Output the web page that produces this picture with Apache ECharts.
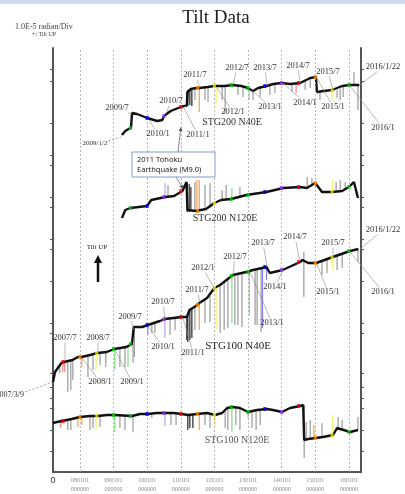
<!DOCTYPE html>
<html>
<head>
<meta charset="utf-8">
<script src="https://cdn.jsdelivr.net/npm/echarts@6.0.0/dist/echarts.min.js"></script>
<style>
html, body { margin: 0; padding: 0; background: #fff; }
#tiltChart { width: 405px; height: 494px; }
</style>
</head>
<body>
<div id="tiltChart"></div>
<script>
// year grid + half-year colour marks
var years = [2008, 2009, 2010, 2011, 2012, 2013, 2014, 2015, 2016];
var halfYears = [2007.5, 2008, 2008.5, 2009, 2009.5, 2010, 2010.5, 2011, 2011.5, 2012, 2012.5, 2013, 2013.5, 2014, 2014.5, 2015, 2015.5, 2016];
var halfColors = ['#ff0000', '#ff8c00', '#f2e600', '#00d000', '#00d000', '#0000ff', '#9933ff', '#ff0000', '#ff8c00', '#f2e600', '#00d000', '#00d000', '#0000ff', '#9933ff', '#ff0000', '#ff8c00', '#f2e600', '#00d000'];
var spikeTints = ['#ff8080', '#f0a050', '#f0f060', '#80e080', '#80e080', '#8080ff', '#c0a0f0', '#ff8080', '#f0a050', '#f0f060', '#80e080', '#80e080', '#8080ff', '#c0a0f0', '#ff8080', '#f0a050', '#f0f060', '#80e080'];
var tickValues = [21, 42, 64, 74, 85, 99, 139, 149, 191, 223, 233, 265, 275, 307, 317, 349, 391, 403];

// STG200 N40E
var stg200n40e = [[2009.25, 337], [2009.35, 341], [2009.45, 343], [2009.52, 344], [2009.55, 359], [2009.70, 358], [2009.85, 356], [2010.00, 354], [2010.30, 351], [2010.45, 352], [2010.50, 356], [2010.70, 361], [2011.00, 365], [2011.10, 366], [2011.18, 367], [2011.20, 380], [2011.30, 383], [2011.45, 384], [2011.55, 384], [2011.80, 385], [2012.00, 386], [2012.30, 386], [2012.55, 387], [2012.80, 386], [2013.00, 384], [2013.15, 381], [2013.30, 384], [2013.55, 386], [2013.75, 388], [2014.00, 389], [2014.25, 388], [2014.55, 389], [2014.85, 394], [2015.02, 395], [2015.05, 380], [2015.25, 381], [2015.50, 382], [2015.80, 386], [2016.02, 387], [2016.20, 387], [2016.31, 387]];
var marks200n40e = [[2009.5, 344], [2010.0, 354], [2010.5, 356], [2011.0, 365], [2011.5, 384], [2012.0, 386], [2012.5, 387], [2013.0, 384], [2013.5, 386], [2014.0, 389], [2014.5, 389], [2015.0, 395], [2015.5, 382], [2016.0, 387]];
var spikes200n40e = [[2011.18, 380, 365], [2011.21, 382, 366], [2011.27, 382, 367], [2011.33, 383, 366], [2011.42, 384, 372], [2011.55, 384, 360], [2011.72, 384, 372], [2011.81, 385, 370], [2012.05, 386, 369], [2012.23, 386, 372], [2012.32, 386, 359], [2012.70, 386, 377], [2012.85, 386, 375], [2013.03, 384, 372], [2013.15, 382, 372], [2013.36, 384, 375], [2013.65, 387, 377], [2013.80, 388, 379], [2014.31, 388, 380], [2014.43, 389, 379], [2014.70, 392, 382], [2014.85, 393, 384], [2015.14, 381, 372], [2015.50, 382, 372], [2015.65, 382, 374], [2015.74, 383, 372], [2015.83, 385, 375], [2016.15, 387, 400], [2016.27, 386, 362]];

// STG200 N120E
var stg200n120e = [[2009.25, 254], [2009.35, 262], [2009.50, 264], [2009.75, 265], [2010.00, 266], [2010.12, 272], [2010.40, 274], [2010.55, 275], [2010.80, 276], [2010.95, 279], [2011.05, 281], [2011.17, 290], [2011.20, 262], [2011.45, 261], [2011.75, 263], [2012.00, 269], [2012.20, 272], [2012.50, 273], [2012.95, 277], [2013.55, 280], [2014.05, 284], [2014.55, 285], [2014.75, 284], [2015.00, 289], [2015.20, 280], [2015.50, 280], [2015.80, 281], [2016.00, 285], [2016.15, 290], [2016.27, 274]];
var marks200n120e = [[2009.5, 264], [2010.0, 266], [2010.5, 275], [2011.0, 281], [2011.5, 261], [2012.0, 269], [2012.5, 273], [2013.0, 277], [2013.5, 280], [2014.0, 284], [2014.5, 285], [2015.0, 289], [2015.5, 280], [2016.0, 285]];
var spikes200n120e = [[2010.53, 275, 289], [2010.62, 275, 287], [2011.19, 290, 260], [2011.25, 288, 260], [2011.30, 285, 261], [2011.42, 261, 290], [2011.48, 261, 292], [2011.55, 261, 292], [2011.72, 262, 287], [2011.87, 264, 289], [2012.23, 272, 282], [2012.35, 272, 287], [2012.52, 273, 284], [2012.76, 275, 285], [2014.76, 284, 295], [2014.90, 286, 294], [2015.52, 280, 292], [2015.62, 280, 290], [2015.74, 281, 292], [2015.89, 282, 290]];

// STG100 N40E
var stg100n40e = [[2007.20, 90], [2007.26, 100], [2007.45, 109], [2007.52, 110], [2007.78, 112], [2007.94, 115], [2008.05, 115], [2008.30, 117], [2008.52, 119], [2008.80, 120], [2009.02, 123], [2009.38, 125], [2009.55, 128], [2009.60, 145], [2009.85, 145], [2010.02, 147], [2010.38, 151], [2010.53, 153], [2010.78, 154], [2011.03, 155], [2011.18, 155], [2011.26, 162], [2011.45, 166], [2011.55, 169], [2011.78, 174], [2012.00, 184], [2012.17, 187], [2012.55, 197], [2012.95, 200], [2013.15, 202], [2013.55, 205], [2013.65, 199], [2014.03, 202], [2014.55, 210], [2014.62, 212], [2014.79, 209], [2015.03, 209], [2015.52, 215], [2015.95, 220], [2016.04, 221], [2016.28, 223]];
var marks100n40e = [[2007.5, 110], [2008.0, 115], [2008.5, 119], [2009.0, 123], [2009.5, 128], [2010.0, 147], [2010.5, 153], [2011.0, 155], [2011.5, 167], [2012.0, 184], [2012.5, 196], [2013.0, 200], [2013.5, 205], [2014.0, 202], [2014.5, 210], [2015.0, 209], [2015.5, 215], [2016.0, 221]];
var spikes100n40e = [[2007.40, 107, 99], [2007.49, 109, 100], [2007.55, 110, 100], [2007.64, 111, 80], [2007.73, 112, 82], [2007.79, 112, 92], [2008.06, 115, 105], [2008.24, 116, 95], [2008.39, 117, 102], [2008.48, 118, 102], [2008.60, 119, 107], [2008.77, 120, 105], [2009.04, 123, 102], [2009.19, 123, 105], [2009.34, 124, 105], [2009.43, 126, 105], [2009.58, 128, 109], [2009.62, 145, 115], [2010.02, 147, 137], [2010.14, 148, 139], [2010.23, 149, 139], [2010.53, 153, 134], [2010.68, 154, 137], [2010.83, 154, 142], [2011.18, 155, 132], [2011.21, 156, 130], [2011.27, 162, 132], [2011.33, 164, 134], [2011.42, 166, 142], [2011.55, 169, 142], [2011.72, 172, 149], [2011.87, 176, 150], [2012.05, 184, 142], [2012.17, 187, 139], [2012.29, 189, 142], [2012.40, 192, 144], [2012.52, 194, 149], [2012.61, 196, 147], [2012.70, 198, 147], [2012.82, 199, 145], [2013.04, 200, 157], [2013.21, 201, 147], [2013.27, 202, 147], [2013.39, 203, 140], [2013.43, 203, 144], [2013.55, 205, 192], [2014.66, 220, 175], [2015.20, 210, 197], [2015.35, 212, 199], [2015.52, 215, 202], [2015.65, 216, 202], [2015.80, 218, 204], [2016.27, 223, 210]];

// STG100 N120E
var stg100n120e = [[2007.20, 49], [2007.32, 50], [2007.46, 51], [2007.76, 53], [2008.00, 55], [2008.30, 56], [2008.54, 56], [2008.80, 57], [2009.04, 57], [2009.55, 56], [2009.79, 58], [2010.02, 58], [2010.29, 59], [2010.77, 59], [2011.04, 58], [2011.21, 57], [2011.48, 58], [2011.78, 59], [2012.02, 57], [2012.23, 59], [2012.38, 64], [2012.55, 65], [2012.76, 64], [2013.00, 60], [2013.27, 62], [2013.57, 63], [2013.74, 62], [2014.01, 60], [2014.25, 64], [2014.55, 66], [2014.64, 67], [2014.67, 32], [2014.79, 33], [2015.02, 34], [2015.23, 35], [2015.53, 37], [2015.65, 44], [2015.74, 43], [2016.04, 40], [2016.27, 42]];
var marks100n120e = [[2007.5, 51], [2008.0, 55], [2008.5, 56], [2009.0, 57], [2009.5, 56], [2010.0, 58], [2010.5, 59], [2011.0, 58], [2011.5, 58], [2012.0, 57], [2012.5, 65], [2013.0, 60], [2013.5, 63], [2014.0, 60], [2014.5, 66], [2015.0, 34], [2015.5, 37], [2016.0, 40]];
var spikes100n120e = [[2007.43, 51, 44], [2007.64, 52, 42], [2007.73, 52, 42], [2007.94, 54, 45], [2008.06, 55, 47], [2008.30, 56, 42], [2008.39, 56, 44], [2008.48, 56, 42], [2008.60, 57, 45], [2009.04, 57, 40], [2009.19, 57, 44], [2009.34, 56, 42], [2009.58, 56, 40], [2010.14, 58, 54], [2010.53, 59, 46], [2010.71, 59, 47], [2010.86, 59, 47], [2011.21, 57, 42], [2011.27, 57, 44], [2011.36, 58, 44], [2011.55, 58, 42], [2011.72, 59, 47], [2011.87, 59, 44], [2012.02, 57, 47], [2012.32, 63, 44], [2012.40, 64, 42], [2012.52, 65, 40], [2012.64, 65, 47], [2012.76, 64, 42], [2013.00, 60, 54], [2013.12, 61, 44], [2013.24, 62, 42], [2013.36, 62, 47], [2014.67, 67, 14], [2014.73, 32, 50], [2014.85, 33, 52], [2014.96, 33, 47], [2015.20, 35, 49], [2015.52, 37, 57], [2015.68, 43, 55], [2015.80, 43, 52], [2016.27, 42, 55]];

// date notes: text, label x, y, leader target x, y (pixels)
var notes = [
    ['2009/7', 117, 108, 132, 114], ['2010/7', 171, 101, 166, 114], ['2010/1', 158, 134, 149, 120],
    ['2011/1', 198, 135, 184, 108], ['2011/7', 195, 75, 200, 88], ['2012/7', 237, 68, 233, 85],
    ['2013/7', 265, 68, 267, 86], ['2014/7', 298, 66, 300, 83], ['2015/7', 328, 72, 333, 90],
    ['2012/1', 233, 112, 217, 88], ['2013/1', 270, 107, 250, 88], ['2014/1', 305, 103, 283, 83],
    ['2015/1', 333, 107, 317, 78], ['2016/1/22', 383, 67, 360, 85], ['2016/1', 383, 128, 350, 86],
    ['2007/7', 65, 338, 65, 361], ['2008/7', 98, 338, 98, 353], ['2008/1', 100, 382, 82, 358],
    ['2009/1', 132, 382, 115, 350], ['2009/7', 130, 317, 134, 330], ['2010/7', 163, 302, 165, 319],
    ['2010/1', 163, 347, 148, 326], ['2011/7', 197, 290, 200, 303], ['2012/1', 203, 268, 214, 288],
    ['2012/7', 235, 257, 233, 275], ['2013/7', 263, 243, 267, 267], ['2014/7', 295, 237, 300, 262],
    ['2015/7', 333, 243, 333, 257], ['2015/1', 328, 292, 317, 264], ['2014/1', 275, 287, 283, 270],
    ['2013/1', 272, 323, 250, 272], ['2011/1', 193, 353, 183, 318], ['2016/1/22', 383, 230, 360, 249],
    ['2016/1', 383, 292, 350, 252]
];

var SERIF = '"Liberation Serif", "Times New Roman", serif';

function halfIndex(x) {
    var i = Math.round((x - 2007.5) * 2);
    if (i < 0 || i >= halfYears.length) return -1;
    return Math.abs(halfYears[i] - x) <= 0.07 ? i : -1;
}

function spikeColor(x) {
    if (x >= 2011.15 && x <= 2011.36) return '#222';
    var i = halfIndex(x);
    return i >= 0 ? spikeTints[i] : '#9a9a9a';
}

function txt(text, x, y, size, color, align) {
    return {
        type: 'text', x: x, y: y, silent: true, z: 50,
        style: { text: text, font: size + 'px ' + SERIF, fill: color || '#333', align: align || 'center', verticalAlign: 'middle' }
    };
}

function seg(x1, y1, x2, y2, color, width, dash) {
    return {
        type: 'line', silent: true, z: 40,
        shape: { x1: x1, y1: y1, x2: x2, y2: y2 },
        style: { stroke: color || '#8a8a8a', lineWidth: width || 0.6, lineDash: dash || null }
    };
}

function arrowHead(x, y, dx, dy, size, color) {
    var l = Math.sqrt(dx * dx + dy * dy), ux = dx / l, uy = dy / l;
    var bx = x - ux * size, by = y - uy * size;
    return {
        type: 'polygon', silent: true, z: 41,
        shape: { points: [[x, y], [bx - uy * size * 0.5, by + ux * size * 0.5], [bx + uy * size * 0.5, by - ux * size * 0.5]] },
        style: { fill: color }
    };
}

function buildGraphics() {
    var els = [];
    els.push({ type: 'rect', shape: { x: 0, y: 0, width: 405, height: 4 }, style: { fill: '#d3dcef' }, silent: true });
    els.push(txt('Tilt Data', 216, 18, 19, '#222'));
    els.push(txt('1.0E-5 radian/Div', 15, 27, 8, '#444', 'left'));
    els.push(txt('+: Tilt UP', 32, 34, 6, '#444', 'left'));

    notes.forEach(function (n) {
        els.push(txt(n[0], n[1], n[2], 8.5, '#333'));
        var dx = n[3] - n[1], dy = n[4] - n[2];
        var hw = n[0].length * 2.1 + 1, hh = 4.5;
        var t = Math.min(dx === 0 ? 1e9 : hw / Math.abs(dx), dy === 0 ? 1e9 : hh / Math.abs(dy));
        els.push(seg(n[1] + dx * t, n[2] + dy * t, n[3], n[4]));
    });
    els.push(txt('2009/1/2', 95, 143, 7, '#333'));
    els.push(seg(108, 141, 121, 137, '#777', 0.7, [2, 2]));
    els.push(txt('2007/3/9', 24, 395, 8, '#333', 'right'));
    els.push(seg(25, 392, 53, 382, '#777', 0.7, [2, 2]));

    els.push(txt('STG200 N40E', 232, 122, 10, '#333'));
    els.push(txt('STG200 N120E', 225, 218, 10, '#333'));
    els.push(txt('STG100 N40E', 238, 346, 11, '#222'));
    els.push(txt('STG100 N120E', 237, 440, 10, '#555'));

    // Tilt UP arrow
    els.push(txt('Tilt UP', 97, 247, 7, '#222'));
    els.push(seg(98, 282, 98, 262, '#111', 2.5));
    els.push(arrowHead(98, 255, 0, -1, 8, '#111'));

    // earthquake callout
    els.push({
        type: 'rect', z: 45, silent: true,
        shape: { x: 132, y: 152, width: 83, height: 25 },
        style: { fill: '#fff', stroke: '#7f9cc8', lineWidth: 1 }
    });
    els.push({
        type: 'text', x: 137, y: 160, z: 46, silent: true,
        style: { text: '2011 Tohoku', font: '7.5px "Noto Sans", "Open Sans", sans-serif', fill: '#222', align: 'left', verticalAlign: 'middle' }
    });
    els.push({
        type: 'text', x: 137, y: 170, z: 46, silent: true,
        style: { text: 'Earthquake (M9.0)', font: '7.5px "Noto Sans", "Open Sans", sans-serif', fill: '#222', align: 'left', verticalAlign: 'middle' }
    });
    els.push(seg(178, 152, 180.5, 131, '#555', 0.7));
    els.push(arrowHead(181, 127, 0.12, -1, 4, '#555'));
    els.push(seg(176, 177, 181, 185, '#555', 0.7));
    els.push(arrowHead(183, 189, 0.55, 1, 4, '#555'));
    return els;
}

function lineSeries(name, data) {
    return {
        name: name, type: 'line', data: data, showSymbol: false, z: 4,
        lineStyle: { color: '#111', width: 2.4 }, animation: false
    };
}

function markSeries(name, data) {
    return {
        name: name + ' marks', type: 'scatter', data: data, z: 6,
        symbol: 'rect', symbolSize: [3, 4], animation: false,
        itemStyle: {
            color: function (p) {
                var i = halfIndex(p.value[0]);
                return i >= 0 ? halfColors[i] : '#111';
            }
        }
    };
}

function spikeSeries(name, data) {
    return {
        name: name + ' spikes', type: 'custom', data: data, z: 3, animation: false,
        encode: { x: 0, y: [1, 2] },
        renderItem: function (params, api) {
            var x = api.value(0);
            var p1 = api.coord([x, api.value(1)]);
            var p2 = api.coord([x, api.value(2)]);
            return {
                type: 'line',
                shape: { x1: p1[0], y1: p1[1], x2: p2[0], y2: p2[1] },
                style: { stroke: spikeColor(x), lineWidth: 1.2 }
            };
        }
    };
}

var tiltChart = echarts.init(document.getElementById('tiltChart'));
window.addEventListener('resize', function () {
    tiltChart.resize();
});

var spikeAll = spikes200n40e.concat(spikes200n120e, spikes100n40e, spikes100n120e);

var gridLines = lineSeries('STG100 N120E', stg100n120e);
gridLines.markLine = {
    silent: true, symbol: ['none', 'none'], animation: false,
    label: { show: false },
    lineStyle: { color: '#a8a8a8', width: 0.8, type: [2, 2] },
    data: years.map(function (y) { return { xAxis: y }; })
};

tiltChart.setOption({
    animation: false,
    backgroundColor: '#fff',
    grid: { left: 53, right: 44, top: 48, bottom: 22 },
    xAxis: [{
        type: 'value', min: 2007.2, max: 2016.36,
        axisLine: { show: true, lineStyle: { color: '#555', width: 2 } },
        axisTick: { show: false },
        splitLine: { show: false },
        axisLabel: {
            customValues: [2007.2].concat(years),
            fontSize: 6, color: '#8a8a8a', lineHeight: 9, margin: 4, fontFamily: SERIF,
            formatter: function (v) {
                if (v < 2007.5) return '{z|0}';
                return String(Math.round(v)).slice(2) + '0101\n000000';
            },
            rich: { z: { fontSize: 9, color: '#333', fontFamily: 'Liberation Sans, sans-serif' } }
        }
    }, {
        type: 'value', min: 2007.2, max: 2016.36, position: 'top',
        axisLine: { show: true, lineStyle: { color: '#555', width: 2 } },
        axisTick: { show: false }, axisLabel: { show: false }, splitLine: { show: false }
    }],
    yAxis: [{
        type: 'value', min: 0, max: 424, position: 'left',
        axisLine: { show: true, lineStyle: { color: '#555', width: 2 } },
        axisTick: { show: true, customValues: tickValues, length: 3, lineStyle: { color: '#555' } },
        axisLabel: { show: false }, splitLine: { show: false }
    }, {
        type: 'value', min: 0, max: 424, position: 'right',
        axisLine: { show: true, lineStyle: { color: '#555', width: 2 } },
        axisTick: { show: true, customValues: tickValues, length: 3, lineStyle: { color: '#555' } },
        axisLabel: { show: false }, splitLine: { show: false }
    }],
    series: [
        spikeSeries('all', spikeAll),
        lineSeries('STG200 N40E', stg200n40e),
        lineSeries('STG200 N120E', stg200n120e),
        lineSeries('STG100 N40E', stg100n40e),
        gridLines,
        markSeries('STG200 N40E', marks200n40e),
        markSeries('STG200 N120E', marks200n120e),
        markSeries('STG100 N40E', marks100n40e),
        markSeries('STG100 N120E', marks100n120e)
    ],
    graphic: buildGraphics()
});
</script>
</body>
</html>
